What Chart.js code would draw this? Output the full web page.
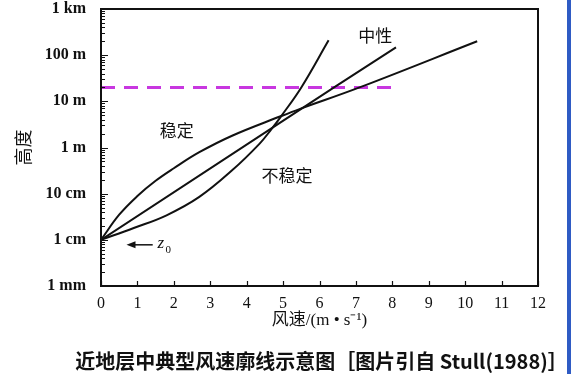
<!DOCTYPE html>
<html>
<head>
<meta charset="utf-8">
<script src="https://cdn.jsdelivr.net/npm/chart.js@4.4.1/dist/chart.umd.min.js"></script>
<style>
html, body { margin: 0; padding: 0; background: #fff; }
#wrap { width: 567px; height: 374px; border-right: 4px solid #2f5bc4; }
</style>
</head>
<body>
<div id="wrap"><canvas id="myChart"></canvas></div>
<script>
// 风速 (m/s) 对 高度 (m)，高度用对数轴
var speedTicks = [0, 1, 2, 3, 4, 5, 6, 7, 8, 9, 10, 11, 12];
var heightTicks = [0.001, 0.01, 0.1, 1, 10, 100, 1000];
var heightLabels = ['1 mm', '1 cm', '10 cm', '1 m', '10 m', '100 m', '1 km'];

// 稳定
var stableSpeed = [0, 0.5, 1, 1.5, 2, 2.7, 3.6, 4.95, 5.45, 7.1, 10.33];
var stableHeight = [0.01, 0.035, 0.089, 0.19, 0.355, 0.79, 1.8, 4.8, 6.8, 20, 200];
// 中性
var neutralSpeed = [0, 4.68, 6.4, 8.1];
var neutralHeight = [0.01, 2.6, 20, 148];
// 不稳定
var unstableSpeed = [0, 0.9, 1.8, 2.7, 3.6, 4.35, 4.68, 4.95, 5.5, 6.25];
var unstableHeight = [0.01, 0.018, 0.034, 0.085, 0.32, 1.2, 2.5, 4.8, 20, 210];
// 虚线 (约 20 m)
var refSpeed = [0, 8];
var refHeight = [20, 20];

var notes = [
    { text: '稳定', x: 2.08, y: 2.3 },
    { text: '不稳定', x: 5.11, y: 0.245 },
    { text: '中性', x: 7.53, y: 265 }
];
var caption = '近地层中典型风速廓线示意图［图片引自 Stull(1988)］';

function pts(xs, ys) {
    return xs.map(function (v, i) { return { x: v, y: ys[i] }; });
}

var serif = '"Liberation Serif", "Noto Sans CJK SC", serif';
var cjk = '"Noto Sans CJK SC", sans-serif';

var decor = {
    id: 'decor',
    afterDraw: function (chart) {
        var ctx = chart.ctx, a = chart.chartArea;
        var sx = chart.scales.x, sy = chart.scales.y;
        ctx.save();
        ctx.strokeStyle = '#111';
        ctx.lineWidth = 1.2;
        ctx.beginPath();
        speedTicks.forEach(function (v) {
            var px = Math.round(sx.getPixelForValue(v)) + 0.5;
            ctx.moveTo(px, a.bottom);
            ctx.lineTo(px, a.bottom - 5);
        });
        for (var k = -3; k < 3; k++) {
            for (var m = 1; m < 10; m++) {
                var py = Math.round(sy.getPixelForValue(m * Math.pow(10, k))) + 0.5;
                ctx.moveTo(a.left, py);
                ctx.lineTo(a.left + (m == 1 ? 7 : 4), py);
            }
        }
        ctx.stroke();
        ctx.lineWidth = 2;
        ctx.strokeRect(a.left, a.top, a.right - a.left, a.bottom - a.top);

        ctx.fillStyle = '#111';
        ctx.textAlign = 'center';
        ctx.textBaseline = 'middle';
        ctx.font = '17px ' + cjk;
        notes.forEach(function (n) {
            ctx.fillText(n.text, sx.getPixelForValue(n.x), sy.getPixelForValue(n.y));
        });

        // z0 箭头
        var ay = sy.getPixelForValue(0.0078);
        var x1 = sx.getPixelForValue(0.7), x2 = sx.getPixelForValue(1.42);
        ctx.lineWidth = 1.5;
        ctx.beginPath();
        ctx.moveTo(x1 + 6, ay); ctx.lineTo(x2, ay);
        ctx.stroke();
        ctx.beginPath();
        ctx.moveTo(x1, ay); ctx.lineTo(x1 + 9, ay - 3.5); ctx.lineTo(x1 + 9, ay + 3.5);
        ctx.closePath(); ctx.fill();
        ctx.textAlign = 'left';
        ctx.font = 'italic 17px ' + serif;
        ctx.fillText('z', sx.getPixelForValue(1.55), ay - 1);
        ctx.font = '11px ' + serif;
        ctx.fillText('0', sx.getPixelForValue(1.55) + 8, ay + 5);

        ctx.textAlign = 'center';
        ctx.font = 'bold 20px ' + cjk;
        ctx.fillText(caption, (a.left + a.right) / 2 + 2, 361);
        ctx.restore();
    }
};

var ctx = document.getElementById('myChart').getContext('2d');
var myChart = new Chart(ctx,
{
    type: 'line',
    data:
    {
        datasets:
        [
            { data: pts(stableSpeed, stableHeight), borderColor: '#111', borderWidth: 2, pointRadius: 0, tension: 0.4 },
            { data: pts(neutralSpeed, neutralHeight), borderColor: '#111', borderWidth: 2, pointRadius: 0 },
            { data: pts(unstableSpeed, unstableHeight), borderColor: '#111', borderWidth: 2, pointRadius: 0, tension: 0.4 },
            { data: pts(refSpeed, refHeight), borderColor: '#c837e0', borderWidth: 3, borderDash: [14, 9], pointRadius: 0 }
        ]
    },
    plugins: [decor],
    options:
    {
        responsive: true,
        maintainAspectRatio: false,
        animation: false,
        layout: { padding: { top: 9, right: 29, bottom: 43, left: 0 } },
        plugins: { legend: { display: false }, tooltip: { enabled: false } },
        scales:
        {
            x:
            {
                type: 'linear', min: 0, max: 12,
                afterBuildTicks: function (s) { s.ticks = speedTicks.map(function (v) { return { value: v }; }); },
                afterFit: function (s) { s.height = 45; },
                grid: { display: false },
                border: { display: false },
                ticks: { autoSkip: false, maxRotation: 0, padding: 0, color: '#111', font: { family: serif, size: 16 } },
                title: { display: true, text: '风速/(m • s⁻¹)', color: '#111', padding: { top: 0, bottom: 0 }, font: { family: serif, size: 17 } }
            },
            y:
            {
                type: 'logarithmic', min: 0.001, max: 1000,
                afterBuildTicks: function (s) { s.ticks = heightTicks.map(function (v) { return { value: v }; }); },
                afterFit: function (s) { s.width = 101; s.paddingTop = 0; s.paddingBottom = 0; },
                grid: { display: false },
                border: { display: false },
                ticks: {
                    autoSkip: false, padding: 7, color: '#111', font: { family: serif, size: 16, weight: 'bold' },
                    callback: function (v, i) { return heightLabels[i]; }
                },
                title: { display: true, text: '高度', color: '#111', padding: { top: 12, bottom: 0 }, font: { family: cjk, size: 18 } }
            }
        }
    }
});
</script>
</body>
</html>
